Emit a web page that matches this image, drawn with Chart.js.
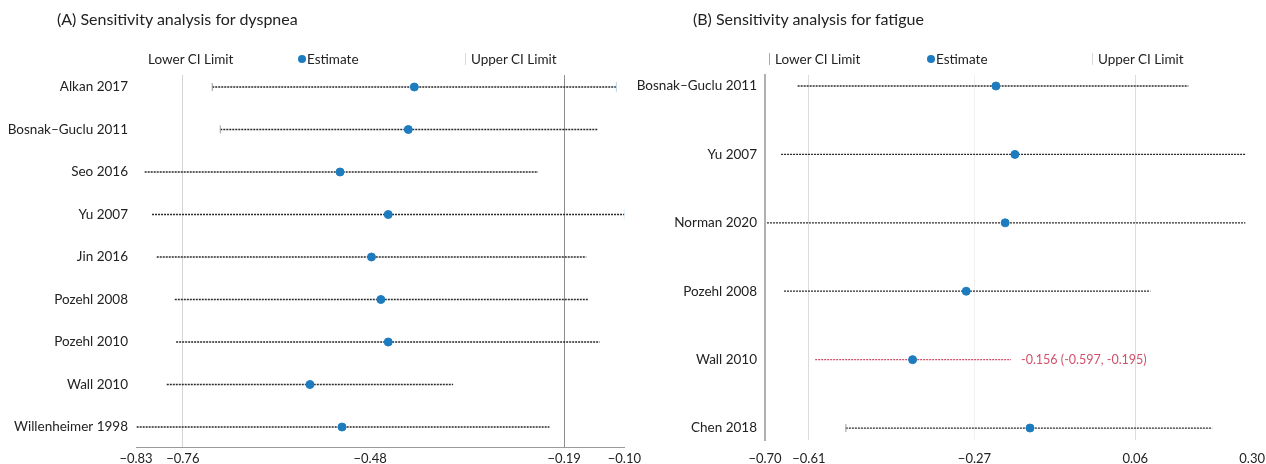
<!DOCTYPE html>
<html>
<head>
<meta charset="utf-8">
<script src="https://cdn.jsdelivr.net/npm/chart.js@4.4.1/dist/chart.umd.min.js"></script>
<style>
    body { margin: 0; background: #fff; font-family: Lato, sans-serif; color: #222; }
    #wrap { position: relative; width: 1266px; height: 464px; overflow: hidden; }
    .panel { position: absolute; top: 0; height: 464px; }
    .title { position: absolute; top: 9px; font-size: 16px; white-space: nowrap; }
    .legend { position: absolute; top: 51px; font-size: 13.5px; white-space: nowrap; line-height: 16px; }
    .dot { position: absolute; top: 4px; width: 8px; height: 8px; border-radius: 50%; background: #1c7cbf; }
    .bar { position: absolute; top: 2px; width: 1px; height: 12px; background: #aaa; }
</style>
</head>
<body>
<div id="wrap">
    <div class="panel" style="left:0;width:645px"><canvas id="chartA"></canvas></div>
    <div class="panel" style="left:632px;width:644px"><canvas id="chartB"></canvas></div>

    <div class="title" style="left:57px">(A) Sensitivity analysis for dyspnea</div>
    <div class="title" style="left:693px">(B) Sensitivity analysis for fatigue</div>

    <div class="legend" style="left:148px">Lower CI Limit</div>
    <div class="legend" style="left:298px"><span class="dot" style="left:0"></span><span style="padding-left:9px">Estimate</span></div>
    <div class="legend" style="left:465px"><span class="bar" style="left:0;background:#d8d8d8"></span><span style="padding-left:6px">Upper CI Limit</span></div>

    <div class="legend" style="left:769px"><span class="bar" style="left:0"></span><span style="padding-left:6px">Lower CI Limit</span></div>
    <div class="legend" style="left:927px"><span class="dot" style="left:0"></span><span style="padding-left:9px">Estimate</span></div>
    <div class="legend" style="left:1092px"><span class="bar" style="left:0;background:#d8d8d8"></span><span style="padding-left:6px">Upper CI Limit</span></div>
</div>

<script>
// (A) dyspnea
const studiesA = ['Alkan 2017', 'Bosnak\u2013Guclu 2011', 'Seo 2016', 'Yu 2007', 'Jin 2016',
    'Pozehl 2008', 'Pozehl 2010', 'Wall 2010', 'Willenheimer 1998'];
const estimateA = [-0.414, -0.423, -0.525, -0.453, -0.478, -0.464, -0.453, -0.570, -0.522];
const lowerA = [-0.716, -0.704, -0.817, -0.806, -0.799, -0.772, -0.770, -0.784, -0.829];
const upperA = [-0.112, -0.139, -0.229, -0.100, -0.157, -0.154, -0.137, -0.356, -0.212];
const ticksA = [-0.83, -0.76, -0.48, -0.19, -0.10];

// (B) fatigue
const studiesB = ['Bosnak\u2013Guclu 2011', 'Yu 2007', 'Norman 2020', 'Pozehl 2008', 'Wall 2010', 'Chen 2018'];
const estimateB = [-0.226, -0.187, -0.207, -0.287, -0.397, -0.156];
const lowerB = [-0.633, -0.667, -0.696, -0.661, -0.597, -0.534];
const upperB = [0.169, 0.286, 0.286, 0.091, -0.195, 0.218];
const ticksB = [-0.70, -0.61, -0.27, 0.06, 0.30];
const highlightB = 4;   // Wall 2010
const highlightText = '-0.156 (-0.597, -0.195)';

const blue = '#1c7cbf';
const red = '#d0506a';

Chart.defaults.font.family = 'Lato, sans-serif';
Chart.defaults.color = '#222';

function fmt(v) {
    return v.toFixed(2).replace('-', '\u2212');
}

function ciLines(lower, upper, hi) {
    return lower.map((lo, i) => ({
        type: 'line',
        data: [{ x: lo, y: i }, { x: upper[i], y: i }],
        borderColor: i === hi ? red : '#2a2a2a',
        borderWidth: 1.3,
        borderDash: [2, 1],
        pointRadius: 0,
        order: 2
    }));
}

const highlightLabel = {
    id: 'highlightLabel',
    afterDatasetsDraw(chart, args, opts) {
        if (!opts.text) return;
        const { ctx, scales } = chart;
        const x = scales.x.getPixelForValue(upperB[opts.row]) + 10;
        const y = scales.y.getPixelForValue(opts.row);
        ctx.save();
        ctx.font = '12.5px Lato, sans-serif';
        ctx.fillStyle = red;
        ctx.textBaseline = 'middle';
        ctx.fillText(opts.text, x, y);
        ctx.restore();
    }
};

function makeChart(id, p) {
    const datasets = ciLines(p.lower, p.upper, p.hi);
    datasets.push({
        type: 'scatter',
        data: p.lower.map((lo, i) => ({ x: lo, y: i })).filter((d, i) => p.capLow.includes(i)),
        pointStyle: 'line', rotation: 90, pointRadius: 4,
        borderColor: '#999', borderWidth: 1, order: 1
    });
    datasets.push({
        type: 'scatter',
        data: p.upper.map((hi, i) => ({ x: hi, y: i })).filter((d, i) => p.capHigh.includes(i)),
        pointStyle: 'line', rotation: 90, pointRadius: 5,
        borderColor: '#b8d4ea', borderWidth: 1, order: 1
    });
    datasets.push({
        type: 'scatter',
        data: p.estimate.map((e, i) => ({ x: e, y: i })),
        backgroundColor: blue, borderColor: blue,
        pointRadius: 4, order: 0
    });

    return new Chart(document.getElementById(id), {
        data: { datasets },
        plugins: [highlightLabel],
        options: {
            responsive: true,
            maintainAspectRatio: false,
            animation: false,
            layout: { padding: { top: 75, left: 0, right: 0, bottom: 0 } },
            plugins: {
                legend: { display: false },
                tooltip: { enabled: false },
                highlightLabel: { text: p.text, row: p.hi }
            },
            scales: {
                x: {
                    type: 'linear',
                    min: p.ticks[0],
                    max: p.ticks[p.ticks.length - 1],
                    afterBuildTicks: s => { s.ticks = p.ticks.map(v => ({ value: v })); },
                    afterFit: s => { s.height = p.xHeight; },
                    ticks: { callback: v => fmt(v), font: { size: 13 }, padding: p.xPad, maxRotation: 0, autoSkip: false },
                    grid: { color: ctx => p.gridColors[ctx.index], drawTicks: false, lineWidth: 1 },
                    border: p.xBorder
                },
                y: {
                    type: 'linear',
                    reverse: true,
                    min: p.yMin,
                    max: p.yMax,
                    afterBuildTicks: s => { s.ticks = p.studies.map((_, i) => ({ value: i })); },
                    afterFit: s => { s.width = p.yWidth; },
                    ticks: { callback: v => p.studies[v], font: { size: 13.5 }, padding: 8, autoSkip: false },
                    grid: { display: false, drawTicks: false },
                    border: p.yBorder
                }
            }
        }
    });
}

makeChart('chartA', {
    studies: studiesA, estimate: estimateA, lower: lowerA, upper: upperA, ticks: ticksA,
    hi: -1, text: '', capLow: [0, 1], capHigh: [0, 3],
    gridColors: ['rgba(0,0,0,0)', '#d4d4d4', 'rgba(0,0,0,0)', '#8c8c8c', 'rgba(0,0,0,0)'],
    xBorder: { display: true, color: '#9a9a9a', width: 1 },
    yBorder: { display: false },
    yMin: -0.282, yMax: 8.47, yWidth: 136, xHeight: 17, xPad: 4
});

makeChart('chartB', {
    studies: studiesB, estimate: estimateB, lower: lowerB, upper: upperB, ticks: ticksB,
    hi: highlightB, text: highlightText, capLow: [5], capHigh: [],
    gridColors: ['rgba(0,0,0,0)', '#dcdcdc', '#f0f0f0', '#dcdcdc', 'rgba(0,0,0,0)'],
    xBorder: { display: false },
    yBorder: { display: true, color: '#b0b0b0', width: 2 },
    yMin: -0.161, yMax: 5.175, yWidth: 133, xHeight: 24, xPad: 11
});
</script>
</body>
</html>
